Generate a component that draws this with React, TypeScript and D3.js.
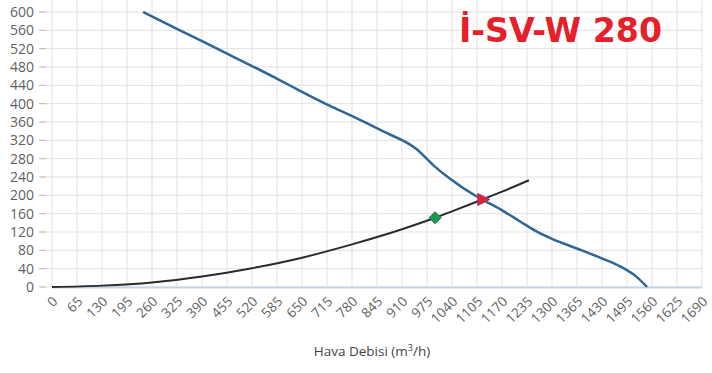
import React from "react";
import * as d3 from "d3";

const xTickLabels = [0, 65, 130, 195, 260, 325, 390, 455, 520, 585, 650, 715, 780, 845, 910, 975, 1040, 1105, 1170, 1235, 1300, 1365, 1430, 1495, 1560, 1625, 1690];
const yTickLabels = [0, 40, 80, 120, 160, 200, 240, 280, 320, 360, 400, 440, 480, 520, 560, 600];

// fan curve (pressure vs airflow)
const fanFlow = [237, 330, 463, 593, 645, 723, 775, 860, 949, 991, 1035, 1113, 1165, 1217, 1256, 1303, 1365, 1425, 1477, 1520, 1547];
const fanPressure = [600, 561, 506, 451, 428, 395, 375, 340, 300, 266, 236, 193, 170, 143, 123, 104, 84, 64, 45, 22, 0];

// system curve
const sysFlow = [0, 130, 260, 390, 520, 650, 780, 910, 996, 1040, 1113, 1170, 1240];
const sysPressure = [0, 3, 10, 23, 41, 64, 93, 126, 151, 165, 189, 208, 233];

const designPoint = [996, 151];
const operatingPoint = [1120, 191];

const titleText = "İ-SV-W 280";

export default function App() {
  const W = 712, H = 373;
  const x = d3.scaleLinear().domain([0, 1690]).range([52, 702]);
  const y = d3.scaleLinear().domain([0, 600]).range([287, 12]);
  const line = d3.line<[number, number]>().x(d => x(d[0])).y(d => y(d[1])).curve(d3.curveMonotoneX);
  const fanData = fanFlow.map((f, i) => [f, fanPressure[i]] as [number, number]);
  const sysData = sysFlow.map((f, i) => [f, sysPressure[i]] as [number, number]);
  const grid = "#e8dfdf";
  const font = "'Open Sans', sans-serif";
  const dx = x(designPoint[0]), dy = y(designPoint[1]);
  const ox = x(operatingPoint[0]), oy = y(operatingPoint[1]);
  return (
    <svg width={W} height={H} style={{ position: "absolute", left: 0, top: 0, background: "#fff" }} fontFamily={font}>
      <rect x={0} y={0} width={W} height={H} fill="#fff" />
      {xTickLabels.map(t => (
        <line key={"vx" + t} x1={x(t)} x2={x(t)} y1={0} y2={287} stroke={grid} strokeWidth={1} />
      ))}
      {yTickLabels.map(t => (
        <line key={"hy" + t} x1={40} x2={702} y1={y(t)} y2={y(t)} stroke={grid} strokeWidth={1} />
      ))}
      {yTickLabels.map(t => (
        <g key={"yl" + t}>
          <line x1={39} x2={46} y1={y(t)} y2={y(t)} stroke="#bbb" strokeWidth={1} />
          <text x={34} y={y(t)} dy="0.35em" textAnchor="end" fontSize={14} fill="#5f5f5f">{t}</text>
        </g>
      ))}
      <line x1={52} x2={702} y1={287.5} y2={287.5} stroke="#c3d5e8" strokeWidth={2} />
      {xTickLabels.map(t => (
        <text key={"xl" + t} transform={`translate(${x(t) + 3},${299}) rotate(-45)`} textAnchor="end" dy="0.35em" fontSize={13.5} fill="#5f5f5f">{t}</text>
      ))}
      <text x={372} y={356} textAnchor="middle" fontSize={13.5} fill="#444">Hava Debisi (m<tspan dy={-5} fontSize={9}>3</tspan><tspan dy={5}>/h)</tspan></text>
      <path d={line(sysData) || ""} fill="none" stroke="#2a2a2a" strokeWidth={2} />
      <path d={line(fanData) || ""} fill="none" stroke="#2e6696" strokeWidth={2.5} />
      <path d={`M${dx},${dy - 6} L${dx + 6},${dy} L${dx},${dy + 6} L${dx - 6},${dy} Z`} fill="#1e9a4c" stroke="#1b6f6a" strokeWidth={1} />
      <path d={`M${ox - 5},${oy - 6} L${ox + 7},${oy} L${ox - 5},${oy + 6} Z`} fill="#e8202a" stroke="#8a3a8a" strokeWidth={1} />
      <text x={459} y={42} fontFamily="'DejaVu Sans', sans-serif" fontWeight="bold" fontSize={33} fill="#e5202a" textLength={203} lengthAdjust="spacingAndGlyphs">{titleText}</text>
    </svg>
  );
}
